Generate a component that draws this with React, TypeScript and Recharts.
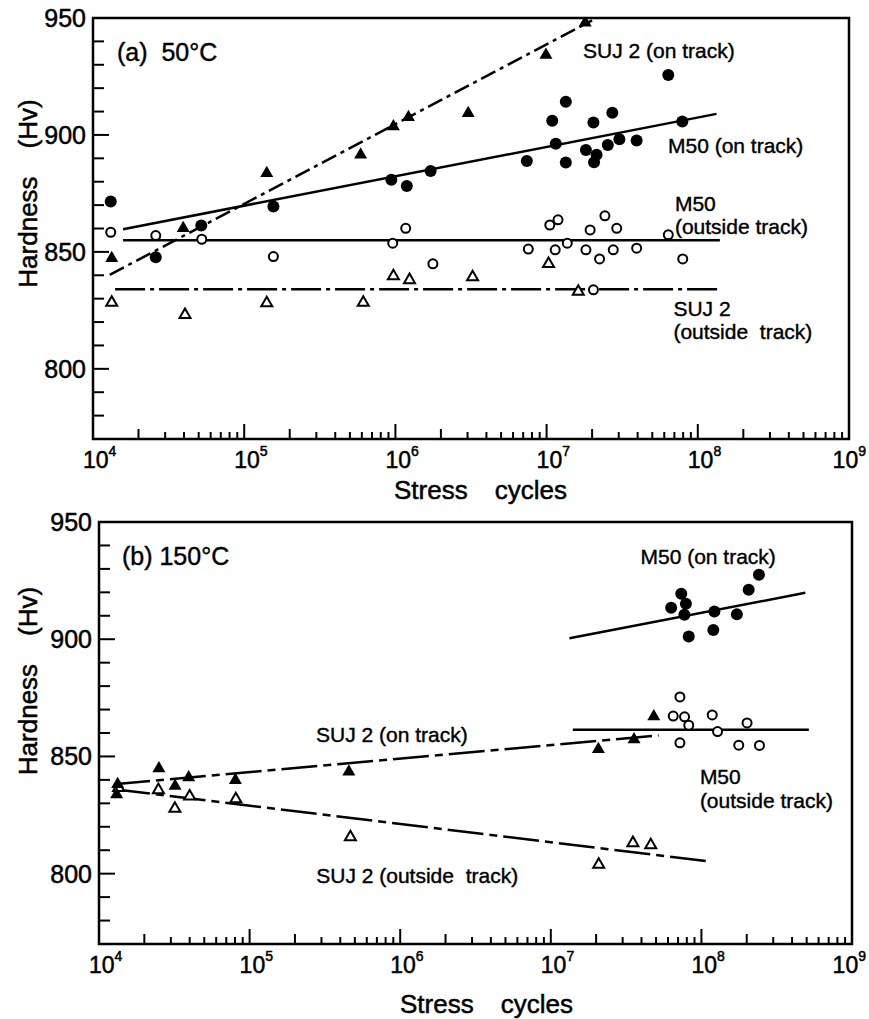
import React from 'react'
import { ScatterChart, Scatter, XAxis, YAxis, ReferenceArea, ReferenceDot } from 'recharts'

// tick values
const xMajor = [1e4, 1e5, 1e6, 1e7, 1e8, 1e9]
const xMinorSteps = [2, 3, 4, 5, 6, 7, 8, 9]
const yTicks = [770, 780, 790, 800, 810, 820, 830, 840, 850, 860, 870, 880, 890, 900, 910, 920, 930, 940, 950]
const yLabels = [800, 850, 900, 950]

// (a) 50°C  -- [cycles, Hv]
const aM50On: [number, number][] = [
  [1.31e4, 871.5], [2.6e4, 847.7], [5.2e4, 861.3], [1.56e5, 869.4], [9.4e5, 880.8], [1.19e6, 878.2],
  [1.71e6, 884.6], [7.4e6, 888.9], [1.09e7, 906.1], [1.15e7, 896.2], [1.34e7, 914.2], [1.34e7, 888.2],
  [1.82e7, 893.6], [2.04e7, 905.3], [2.06e7, 888.3], [2.14e7, 891.5], [2.54e7, 895.7], [2.72e7, 909.5],
  [3.03e7, 898.2], [3.94e7, 897.6], [6.38e7, 925.6], [7.9e7, 905.7]
]
const aSujOn: [number, number][] = [
  [1.33e4, 847.3], [3.95e4, 860.1], [1.41e5, 883.6], [5.89e5, 891.5], [9.7e5, 903.6], [1.22e6, 907.6],
  [3.03e6, 909.3], [9.9e6, 934.2], [1.8e7, 948]
]
const aM50Out: [number, number][] = [
  [1.31e4, 858.4], [2.6e4, 857], [5.24e4, 855.4], [1.56e5, 848], [9.6e5, 853.7], [1.17e6, 860.1],
  [1.77e6, 844.9], [7.57e6, 851.2], [1.05e7, 861.5], [1.14e7, 850.9], [1.19e7, 863.7], [1.37e7, 853.7],
  [1.82e7, 850.9], [1.94e7, 859.4], [2.04e7, 833.8], [2.24e7, 847], [2.43e7, 865.4], [2.76e7, 850.9],
  [2.91e7, 860.1], [3.94e7, 851.6], [6.38e7, 857.3], [7.95e7, 847]
]
const aSujOut: [number, number][] = [
  [1.33e4, 828.3], [4.06e4, 823.1], [1.41e5, 828.1], [6.13e5, 828.3], [9.7e5, 839.7], [1.24e6, 838],
  [3.24e6, 839.2], [1.03e7, 844.9], [1.62e7, 833]
]
const aFitSujOn: [number, number][] = [[1.29e4, 840.2], [2.0e7, 949]]
const aFitM50On: [number, number][] = [[1.58e4, 859.7], [1.33e8, 909]]
const aFitM50Out: [number, number][] = [[1.58e4, 855], [1.4e8, 855]]
const aFitSujOut: [number, number][] = [[1.4e4, 834], [1.4e8, 834]]

// (b) 150°C
const bM50On: [number, number][] = [
  [2.41e8, 927.5], [2.06e8, 921.1], [7.35e7, 919.4], [7.89e7, 915.1], [6.3e7, 913.4], [7.71e7, 910.4],
  [1.22e8, 911.8], [1.72e8, 910.6], [8.24e7, 901.2], [1.2e8, 903.9]
]
const bM50Out: [number, number][] = [
  [7.2e7, 875.4], [6.5e7, 867.2], [7.73e7, 866.9], [8.24e7, 863.3], [1.18e8, 867.7], [1.28e8, 860.6],
  [2.01e8, 864.3], [7.2e7, 855.8], [1.77e8, 854.8], [2.43e8, 854.7]
]
const bSujOn: [number, number][] = [
  [1.33e4, 838.1], [1.31e4, 833.8], [2.5e4, 844.9], [3.2e4, 837.4], [3.94e4, 841], [8.05e4, 839.9],
  [4.56e5, 843.5], [2.07e7, 853.1], [3.57e7, 857.2], [4.83e7, 867]
]
const bSujOut: [number, number][] = [
  [1.35e4, 836.6], [2.48e4, 835.7], [3.19e4, 827.8], [4.0e4, 833], [8.1e4, 831.8], [4.67e5, 815.6],
  [2.08e7, 803.9], [3.51e7, 813.1], [4.61e7, 812.2]
]
const bFitM50On: [number, number][] = [[1.33e7, 900.4], [4.9e8, 919.8]]
const bFitM50Out: [number, number][] = [[1.4e7, 861.4], [5.17e8, 861.4]]
const bFitSujOn: [number, number][] = [[1.26e4, 838.1], [5.2e7, 859]]
const bFitSujOut: [number, number][] = [[1.26e4, 836], [1.12e8, 805.2]]

// annotations anchored at data coords (left edge, middle of first line)
const aNotes = [
  { x: 1.44e4, y: 935.5, lines: ['(a)  50°C'], size: 25 },
  { x: 1.74e7, y: 936.3, lines: ['SUJ 2 (on track)'], size: 21 },
  { x: 6.35e7, y: 895.7, lines: ['M50 (on track)'], size: 21 },
  { x: 7.06e7, y: 871, lines: ['M50', '(outside track)'], size: 21 },
  { x: 6.9e7, y: 826.1, lines: ['SUJ 2', '(outside  track)'], size: 21 }
]
const bNotes = [
  { x: 1.42e4, y: 935.4, lines: ['(b) 150°C'], size: 25 },
  { x: 2.76e5, y: 859.4, lines: ['SUJ 2 (on track)'], size: 21 },
  { x: 3.94e7, y: 935.7, lines: ['M50 (on track)'], size: 21 },
  { x: 9.77e7, y: 841.6, lines: ['M50', '(outside track)'], size: 21 },
  { x: 2.77e5, y: 799.3, lines: ['SUJ 2 (outside  track)'], size: 21 }
]

const FONT = '"Liberation Sans", Arial, sans-serif'
// thin outline so the type reads as heavy as the scanned original
const INK = { fill: '#000', stroke: '#000', strokeWidth: 0.5 }
const xTicks = xMajor.flatMap((m, i) => (i < xMajor.length - 1 ? [m, ...xMinorSteps.map(s => s * m)] : [m]))
const toPts = (arr: [number, number][]) => arr.map(([x, y]) => ({ x, y }))

const XTick = (props: any) => {
  const { x, y, payload } = props
  const v = payload.value as number
  const exp = Math.round(Math.log10(v))
  const lead = Math.round(v / Math.pow(10, Math.floor(Math.log10(v) + 1e-9)))
  const isMajor = lead === 1
  const isLast = v === xMajor[xMajor.length - 1]
  const len = isMajor ? 15 : lead === 2 ? 10 : 7
  return (
    <g>
      <line x1={x} y1={y} x2={x} y2={y - len} stroke="#000" strokeWidth={2} />
      {isMajor && (
        <text
          x={isLast ? 866 : x - 10}
          y={y + 29}
          textAnchor={isLast ? 'end' : 'start'}
          fontSize={23}
          fontFamily={FONT}
          {...INK}
        >
          10<tspan dy={-12} fontSize={14}>{exp}</tspan>
        </text>
      )}
    </g>
  )
}

const YTick = (props: any) => {
  const { x, y, payload } = props
  const v = payload.value as number
  const major = yLabels.includes(v)
  return (
    <g>
      <line x1={x} y1={y} x2={x + (major ? 16 : 11)} y2={y} stroke="#000" strokeWidth={2} />
      {major && (
        <text x={x - 7} y={y} textAnchor="end" dominantBaseline="central" fontSize={25} fontFamily={FONT} {...INK}>
          {v}
        </text>
      )}
    </g>
  )
}

const FilledCircle = (p: any) => <circle cx={p.cx} cy={p.cy} r={6} fill="#000" />
const OpenCircle = (p: any) => <circle cx={p.cx} cy={p.cy} r={4.5} fill="#fff" stroke="#000" strokeWidth={2} />
const tri = (cx: number, cy: number, s: number) => {
  const h = s * 0.866
  return `${cx},${cy - (2 * h) / 3} ${cx - s / 2},${cy + h / 3} ${cx + s / 2},${cy + h / 3}`
}
const FilledTri = (p: any) => <polygon points={tri(p.cx, p.cy, 13)} fill="#000" />
const OpenTri = (p: any) => (
  <polygon points={tri(p.cx, p.cy, 11)} fill="#fff" stroke="#000" strokeWidth={2} strokeLinejoin="miter" />
)
const NoShape = () => <g />

const Note = ({ cx, cy, lines, size }: any) => (
  <text x={cx} y={cy} fontSize={size} fontFamily={FONT} {...INK} strokeWidth={0.4} dominantBaseline="central" style={{ whiteSpace: 'pre' }}>
    {lines.map((t: string, i: number) => (
      <tspan key={i} x={cx} dy={i === 0 ? 0 : size * 1.12}>{t}</tspan>
    ))}
  </text>
)

interface PanelProps {
  height: number
  top: number
  right: number
  yAxisWidth: number
  xAxisHeight: number
  yTitleShift: number
  xTitleDy: number
  fits: { data: [number, number][]; dash?: string }[]
  m50On: [number, number][]
  m50Out: [number, number][]
  sujOn: [number, number][]
  sujOut: [number, number][]
  notes: { x: number; y: number; lines: string[]; size: number }[]
}

function Panel(p: PanelProps) {
  return (
    <ScatterChart
      width={869}
      height={p.height}
      margin={{ top: p.top, right: p.right, left: 0, bottom: 0 }}
      style={{ display: 'block' }}
    >
      <XAxis
        type="number"
        dataKey="x"
        scale="log"
        domain={[1e4, 1e9]}
        ticks={xTicks}
        interval={0}
        allowDataOverflow
        axisLine={false}
        tickLine={false}
        tickSize={0}
        tickMargin={0}
        height={p.xAxisHeight}
        tick={<XTick />}
        label={{
          content: (lp: any) => {
            const vb = lp.viewBox
            return (
              <text x={vb.x + 301} y={vb.y + p.xTitleDy} fontSize={26} fontFamily={FONT} {...INK} dominantBaseline="central">
                <tspan>Stress</tspan>
                <tspan dx={27}>cycles</tspan>
              </text>
            )
          }
        }}
      />
      <YAxis
        type="number"
        dataKey="y"
        domain={[770, 950]}
        ticks={yTicks}
        interval={0}
        allowDataOverflow
        axisLine={false}
        tickLine={false}
        tickSize={0}
        tickMargin={0}
        width={p.yAxisWidth}
        tick={<YTick />}
        label={{
          content: (lp: any) => {
            const vb = lp.viewBox
            const cx = 28
            const cy = vb.y + vb.height / 2 + p.yTitleShift
            return (
              <text
                x={cx}
                y={cy}
                transform={`rotate(-90 ${cx} ${cy})`}
                textAnchor="middle"
                dominantBaseline="central"
                fontSize={26}
                fontFamily={FONT}
                {...INK}
              >
                <tspan>Hardness</tspan>
                <tspan dx={28}>(Hv)</tspan>
              </text>
            )
          }
        }}
      />
      <ReferenceArea x1={1e4} x2={1e9} y1={770} y2={950} fill="none" stroke="#000" strokeWidth={2.5} />
      {p.fits.map((f, i) => (
        <Scatter
          key={`fit-${i}`}
          data={toPts(f.data)}
          line={{ stroke: '#000', strokeWidth: 2.5, strokeDasharray: f.dash }}
          lineType="joint"
          shape={NoShape}
          isAnimationActive={false}
        />
      ))}
      <Scatter data={toPts(p.sujOut)} shape={OpenTri} isAnimationActive={false} />
      <Scatter data={toPts(p.m50Out)} shape={OpenCircle} isAnimationActive={false} />
      <Scatter data={toPts(p.sujOn)} shape={FilledTri} isAnimationActive={false} />
      <Scatter data={toPts(p.m50On)} shape={FilledCircle} isAnimationActive={false} />
      {p.notes.map((n, i) => (
        <ReferenceDot
          key={`note-${i}`}
          x={n.x}
          y={n.y}
          r={0}
          shape={(sp: any) => <Note cx={sp.cx} cy={sp.cy} lines={n.lines} size={n.size} />}
        />
      ))}
    </ScatterChart>
  )
}

export default function App() {
  return (
    <div style={{ width: 869, height: 1019, background: '#fff', overflow: 'hidden' }}>
      <style>{'body{margin:0;background:#fff}'}</style>
      <Panel
        height={506}
        top={18}
        right={20}
        yAxisWidth={93}
        xAxisHeight={67}
        yTitleShift={-35}
        xTitleDy={51}
        fits={[
          { data: aFitSujOn, dash: '16 5 4 5' },
          { data: aFitM50On },
          { data: aFitM50Out },
          { data: aFitSujOut, dash: '30 5 4 5' }
        ]}
        m50On={aM50On}
        m50Out={aM50Out}
        sujOn={aSujOn}
        sujOut={aSujOut}
        notes={aNotes}
      />
      <Panel
        height={513}
        top={16}
        right={17}
        yAxisWidth={99}
        xAxisHeight={75}
        yTitleShift={-52}
        xTitleDy={60}
        fits={[
          { data: bFitSujOn, dash: '36 6 8 6' },
          { data: bFitM50On },
          { data: bFitM50Out },
          { data: bFitSujOut, dash: '36 6 8 6' }
        ]}
        m50On={bM50On}
        m50Out={bM50Out}
        sujOn={bSujOn}
        sujOut={bSujOut}
        notes={bNotes}
      />
    </div>
  )
}
